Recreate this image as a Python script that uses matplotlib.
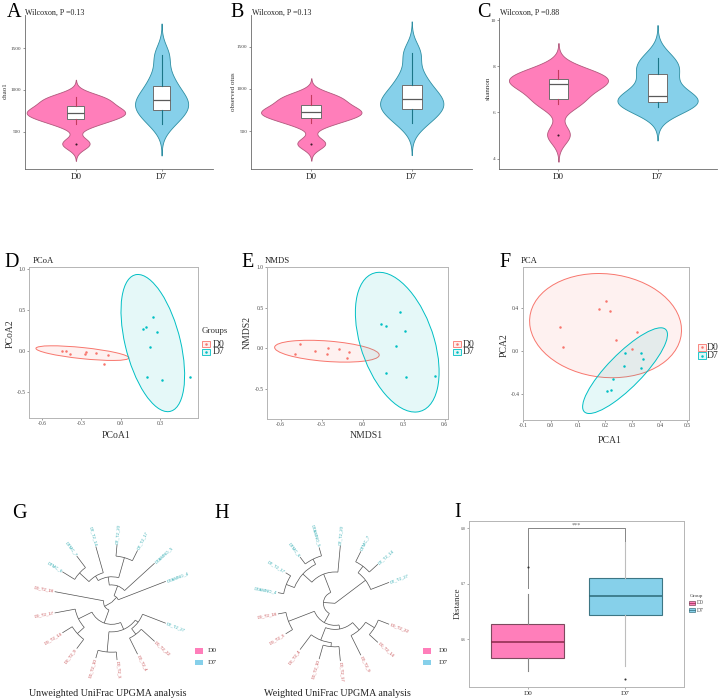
import numpy as np
import matplotlib.pyplot as plt
from matplotlib.mlab import GaussianKDE
from matplotlib.patches import Arc, Ellipse, Rectangle
from matplotlib.colors import to_rgba
from matplotlib.ticker import FormatStrFormatter

plt.rcParams['font.family'] = ['Liberation Serif', 'DejaVu Serif']
plt.rcParams['axes.unicode_minus'] = False

# ---------------- data ----------------
groups = ['D0', 'D7']

# alpha diversity (8 samples per group)
chao1_d0 = [357, 595, 675, 705, 747, 790, 870, 917]
chao1_d7 = [595, 720, 776, 850, 912, 1010, 1162, 1417]
otus_d0 = [352, 592, 672, 700, 740, 786, 862, 922]
otus_d7 = [592, 716, 772, 846, 906, 1004, 1156, 1422]
shannon_d0 = [5.04, 6.35, 6.64, 7.15, 7.29, 7.40, 7.60, 7.83]
shannon_d7 = [6.22, 6.35, 6.46, 6.60, 6.80, 7.55, 7.95, 8.35]
wilcox_p = ['0.13', '0.13', '0.88']

# ordinations
pcoa_d0_x = [-0.450, -0.420, -0.387, -0.269, -0.262, -0.185, -0.097, -0.124]
pcoa_d0_y = [0.008, 0.004, -0.032, -0.032, -0.016, -0.028, -0.044, -0.160]
pcoa_d7_x = [0.249, 0.191, 0.170, 0.280, 0.221, 0.201, 0.315, 0.527]
pcoa_d7_y = [0.416, 0.296, 0.268, 0.236, 0.052, -0.312, -0.351, -0.308]

nmds_d0_x = [-0.458, -0.495, -0.346, -0.253, -0.258, -0.176, -0.102, -0.112]
nmds_d0_y = [0.058, -0.065, -0.037, 0.000, -0.065, -0.004, -0.041, -0.114]
nmds_d7_x = [0.276, 0.132, 0.171, 0.312, 0.244, 0.171, 0.315, 0.532]
nmds_d7_y = [0.442, 0.303, 0.270, 0.217, 0.033, -0.299, -0.348, -0.335]

pca_d0_x = [0.203, 0.178, 0.218, 0.034, 0.315, 0.241, 0.044, 0.299]
pca_d0_y = [0.468, 0.391, 0.369, 0.223, 0.177, 0.102, 0.037, 0.016]
pca_d7_x = [0.271, 0.332, 0.339, 0.268, 0.330, 0.229, 0.220, 0.206]
pca_d7_y = [-0.021, -0.021, -0.077, -0.137, -0.155, -0.263, -0.363, -0.369]

# UPGMA trees: (node height, child, child), height 1 = root
tree_unweighted = (1.0,
    (0.88, 'D7AMNO_4',
        (0.70, 'D7AMNO_5',
            (0.56, (0.20, 'D7_T2_17', 'D7_T2_20'),
                   (0.47, 'D7_T2_14', (0.25, 'DTMC_7', 'DTMC_6'))))),
    (0.86, 'D0_T2_18',
        (0.62, (0.36, 'D0_T2_17', (0.20, 'D0_T2_14', 'D0_T2_9')),
               (0.49, (0.14, 'D0_T2_10', 'D0_T2_3'),
                      (0.43, (0.31, 'D0_T2_4', 'D0_T2_22'), 'D7_T2_27')))))

tree_weighted = (1.0,
    (0.34, 'D7_T2_27', (0.20, 'D7_T2_14', 'DTMC_7')),
    (0.80,
        (0.46, 'D7_T2_20',
            (0.25, (0.15, 'D7AMNO_5', 'DTMC_6'), (0.10, 'D7_T2_17', 'D7AMNO_4'))),
        (0.62, (0.14, 'D0_T2_18', 'D0_T2_3'),
               (0.55, (0.32, 'D0_T2_4', (0.25, 'D0_T2_10', 'D0_T2_17')),
                      (0.38, 'D0_T2_9', (0.20, 'D0_T2_14', 'D0_T2_22'))))))

# beta distance boxplot stats
dist_med = [0.595, 0.678]
dist_q1 = [0.566, 0.643]
dist_q3 = [0.627, 0.711]
dist_lo = [0.543, 0.552]
dist_hi = [0.681, 0.775]
dist_out = [[0.730], [0.528]]
sig_y = 0.80
sig_tips = [0.692, 0.711]

# ---------------- style ----------------
vio_fill = ['#FF7EBA', '#86D0EA']
vio_edge = ['#B0587C', '#2E8EA2']
whisk_col = ['#C43B5E', '#1C7688']
ord_col = ['#F8766D', '#00BFC4']
tip_col = {'D0': '#C4464A', 'D7': '#35ADB3'}

W, H = 719, 700
fig = plt.figure(figsize=(W / 100, H / 100), dpi=100)


def px_axes(l, t, r, b, **kw):
    return fig.add_axes([l / W, 1 - b / H, (r - l) / W, (b - t) / H], **kw)


def nrd0(v):
    q1, q3 = np.percentile(v, [25, 75])
    return 0.9 * min(np.std(v, ddof=1), (q3 - q1) / 1.34) * len(v) ** -0.2


def violin_panel(ax, data, widths, yticks, ylim):
    for pos, vals, w, fc, ec, wc in zip([1, 2], data, widths, vio_fill, vio_edge, whisk_col):
        vals = np.asarray(vals, float)
        bw = nrd0(vals)
        kde = GaussianKDE(vals, bw_method=bw / vals.std(ddof=1))
        grid = np.linspace(vals.min() - 3 * bw, vals.max() + 3 * bw, 300)
        dens = kde.evaluate(grid)
        half = dens / dens.max() * w / 2
        ax.fill_betweenx(grid, pos - half, pos + half, facecolor=fc, edgecolor=ec, lw=0.6, zorder=1)
        ax.boxplot(vals, positions=[pos], widths=0.2, patch_artist=True, showcaps=False,
                   boxprops=dict(facecolor='white', edgecolor='#6e6e6e', lw=0.7),
                   medianprops=dict(color='#5a5a5a', lw=0.9),
                   whiskerprops=dict(color=wc, lw=0.8),
                   flierprops=dict(marker='o', ms=1.5, mfc='#3a1c28', mec='none'),
                   zorder=2)
    ax.set_xlim(0.4, 2.6)
    ax.set_ylim(*ylim)
    ax.set_xticks([1, 2], groups)
    ax.set_yticks(yticks)
    for sp in ['top', 'right']:
        ax.spines[sp].set_visible(False)
    for sp in ['left', 'bottom']:
        ax.spines[sp].set_color('#6a6a6a')
        ax.spines[sp].set_linewidth(0.6)
    ax.tick_params(axis='y', labelsize=3.8, length=1.5, width=0.5, colors='#6a6a6a',
                   labelcolor='#444444', pad=1)
    ax.tick_params(axis='x', labelsize=6.5, length=1.5, width=0.5, colors='#6a6a6a',
                   labelcolor='#222222', pad=1.4)


axA = px_axes(24.5, 15, 213, 169)
violin_panel(axA, [chao1_d0, chao1_d7], (1.15, 0.62), [500, 1000, 1500], (53, 1899))
axB = px_axes(251, 15, 472, 169)
violin_panel(axB, [otus_d0, otus_d7], (1.0, 0.63), [500, 1000, 1500], (50, 1875))
axC = px_axes(499, 18, 717, 169)
violin_panel(axC, [shannon_d0, shannon_d7], (1.0, 0.81), [4, 6, 8, 10], (3.55, 10.09))


# ---------------- ordinations ----------------
F95 = 4.737  # qf(0.95, 2, n - 1) with n = 8


def cov_trob(xy, nu=5, maxit=25, tol=0.01):
    n, p = xy.shape
    loc = xy.mean(axis=0)
    w = np.ones(n)
    for _ in range(maxit):
        w0 = w
        X = xy - loc
        _, d, vt = np.linalg.svd(np.sqrt(w / w.sum())[:, None] * X, full_matrices=False)
        wX = X @ vt.T / d
        Q = (wX ** 2).sum(axis=1)
        w = (nu + p) / (nu + Q)
        loc = (w[:, None] * xy).sum(axis=0) / w.sum()
        if np.all(np.abs(w - w0) < tol):
            break
    sX = np.sqrt(w)[:, None] * X
    return loc, sX.T @ sX / n


def ord_panel(ax, pts, xlim, ylim, xticks, yticks):
    for (x, y), c in zip(pts, ord_col):
        xy = np.column_stack([x, y])
        loc, cov = cov_trob(xy)
        vals, vecs = np.linalg.eigh(cov)
        rad = np.sqrt(2 * F95)
        ang = np.degrees(np.arctan2(vecs[1, 1], vecs[0, 1]))
        ax.add_patch(Ellipse(loc, 2 * rad * np.sqrt(vals[1]), 2 * rad * np.sqrt(vals[0]),
                             angle=ang, facecolor=to_rgba(c, 0.1), edgecolor=c, lw=0.7, zorder=1))
        ax.plot(x, y, 'o', color=c, ms=1.8, mew=0, zorder=3)
    ax.set_xlim(*xlim)
    ax.set_ylim(*ylim)
    ax.set_xticks(xticks)
    ax.set_yticks(yticks)
    ax.xaxis.set_major_formatter(FormatStrFormatter('%.1f'))
    ax.yaxis.set_major_formatter(FormatStrFormatter('%.1f'))
    for sp in ax.spines.values():
        sp.set_color('#b5b5b5')
        sp.set_linewidth(0.7)
    ax.tick_params(labelsize=4, length=1.5, width=0.5, colors='#777777',
                   labelcolor='#444444', pad=1)


axD = px_axes(29, 267, 198, 418)
ord_panel(axD, [(pcoa_d0_x, pcoa_d0_y), (pcoa_d7_x, pcoa_d7_y)], (-0.70, 0.59), (-0.81, 1.02),
          [-0.6, -0.3, 0.0, 0.3], [-0.5, 0.0, 0.5, 1.0])
axE = px_axes(267, 267, 448, 419)
ord_panel(axE, [(nmds_d0_x, nmds_d0_y), (nmds_d7_x, nmds_d7_y)], (-0.70, 0.624), (-0.866, 1.0),
          [-0.6, -0.3, 0.0, 0.3, 0.6], [-0.5, 0.0, 0.5, 1.0])
axF = px_axes(522.7, 267, 689.3, 420)
ord_panel(axF, [(pca_d0_x, pca_d0_y), (pca_d7_x, pca_d7_y)], (-0.102, 0.508), (-0.64, 0.78),
          [-0.1, 0.0, 0.1, 0.2, 0.3, 0.4, 0.5], [-0.4, 0.0, 0.4])


# ---------------- trees ----------------
def leaves_of(node):
    if isinstance(node, str):
        return [node]
    return leaves_of(node[1]) + leaves_of(node[2])


def group_of(name):
    return 'D0' if name.startswith('D0') else 'D7'


def draw_tree(ax, tree):
    order = leaves_of(tree)
    step = 360 / (len(order) + 1)
    lc = '#505050'

    def place(node, parent_r):
        if isinstance(node, str):
            ang = (order.index(node) + 1) * step
            r = 1.0
            t = np.radians(ang)
            if np.cos(t) >= 0:
                rot, ha = ang if ang < 90 else ang - 360, 'left'
            else:
                rot, ha = ang - 180, 'right'
            ax.text(1.015 * np.cos(t), 1.015 * np.sin(t), node, rotation=rot, ha=ha, va='center',
                    rotation_mode='anchor', fontsize=3.1, family=['Liberation Sans', 'DejaVu Sans'],
                    color=tip_col[group_of(node)])
        else:
            h, a, b = node
            r = 1.0 - h
            ang_a = place(a, r)
            ang_b = place(b, r)
            ang = (ang_a + ang_b) / 2
            if r > 0:
                ax.add_patch(Arc((0, 0), 2 * r, 2 * r, theta1=min(ang_a, ang_b),
                                 theta2=max(ang_a, ang_b), color=lc, lw=0.5))
        t = np.radians(ang)
        ax.plot([parent_r * np.cos(t), r * np.cos(t)], [parent_r * np.sin(t), r * np.sin(t)],
                color=lc, lw=0.5, solid_capstyle='butt')
        return ang

    place(tree, 0.0)
    lim = 100 / 58
    ax.set_xlim(-lim, lim)
    ax.set_ylim(-lim, lim)
    ax.set_aspect('equal')
    ax.axis('off')


axG = px_axes(11.7, 502.3, 211.7, 702.3)
draw_tree(axG, tree_unweighted)
axH = px_axes(235, 503.3, 435, 703.3)
draw_tree(axH, tree_weighted)


# ---------------- distance boxplot ----------------
axI = px_axes(469, 520.7, 684, 686.7)
axI.plot([1, 1, 2, 2], [sig_tips[0], sig_y, sig_y, sig_tips[1]], color='#858585', lw=0.7, zorder=1)
box_edge = ['#7d4a5e', '#3d7684']
box_med = ['#8a2a4a', '#2d6a78']
box_whisk = ['#858585', '#bdbdbd']
for i in range(2):
    st = [dict(med=dist_med[i], q1=dist_q1[i], q3=dist_q3[i], whislo=dist_lo[i],
               whishi=dist_hi[i], fliers=dist_out[i])]
    axI.bxp(st, positions=[i + 1], widths=0.75, patch_artist=True, showcaps=False,
            boxprops=dict(facecolor=vio_fill[i], edgecolor=box_edge[i], lw=0.8),
            medianprops=dict(color=box_med[i], lw=1.1),
            whiskerprops=dict(color=box_whisk[i], lw=0.8),
            flierprops=dict(marker='o', ms=1.5, mfc='#333333', mec='none'),
            zorder=2)
axI.text(1.5, sig_y + 0.002, '***', ha='center', va='bottom', fontsize=4.5, color='#666666')
axI.set_xlim(0.4, 2.6)
axI.set_ylim(0.5146, 0.8137)
axI.set_xticks([1, 2], groups)
axI.set_yticks([0.6, 0.7, 0.8])
axI.yaxis.set_major_formatter(FormatStrFormatter('%.1f'))
for sp in axI.spines.values():
    sp.set_color('#b5b5b5')
    sp.set_linewidth(0.7)
axI.tick_params(axis='y', labelsize=3, length=1.3, width=0.5, colors='#888888',
                labelcolor='#555555', pad=1)
axI.tick_params(axis='x', labelsize=5.2, length=1.3, width=0.5, colors='#888888',
                labelcolor='#333333', pad=1.5)


# ---------------- overlay text & legends ----------------
ov = fig.add_axes([0, 0, 1, 1], zorder=10)
ov.set_xlim(0, W)
ov.set_ylim(H, 0)
ov.axis('off')

for s, x, y in [('A', 14, 16.7), ('B', 237, 16.7), ('C', 484, 17.3),
                ('D', 12, 266.7), ('E', 248, 266.7), ('F', 505, 266.7),
                ('G', 19, 518.3), ('H', 222, 518.3), ('I', 458, 516.7)]:
    ov.text(x, y, s, ha='center', va='baseline', fontsize=14.5)

for x, p in zip([25, 251.5, 500.5], wilcox_p):
    ov.text(x, 15.3, 'Wilcoxon, P =' + p, ha='left', va='baseline', fontsize=5.8, color='#222222')

for s, x, y in [('chao1', 5.5, 91), ('observed otus', 233.5, 92), ('shannon', 488, 88)]:
    ov.text(x, y, s, rotation=90, ha='center', va='center', fontsize=5, color='#333333')

for s, x in [('PCoA', 33), ('NMDS', 265), ('PCA', 521)]:
    ov.text(x, 263.3, s, ha='left', va='baseline', fontsize=6.2, color='#222222')

for s, x, y in [('PCoA1', 115.8, 437.7), ('NMDS1', 366.7, 437.7), ('PCA1', 610, 443.3)]:
    ov.text(x, y, s, ha='center', va='baseline', fontsize=7, color='#333333')
for s, x, y in [('PCoA2', 10, 334), ('NMDS2', 247, 332.5), ('PCA2', 504, 345)]:
    ov.text(x, y, s, rotation=90, ha='center', va='center', fontsize=7, color='#333333')

# ellipse legends
ov.text(202, 333, 'Groups', ha='left', va='baseline', fontsize=6.4, color='#333333')
for kx, lx, ys in [(202.3, 213, (340.7, 348.5)), (453.3, 463, (340.7, 348.5)),
                   (698.3, 707, (344, 352.3))]:
    for y0, c, g in zip(ys, ord_col, groups):
        ov.add_patch(Rectangle((kx, y0), 7.7, 6.7, facecolor=to_rgba(c, 0.12), edgecolor=c, lw=0.6))
        ov.plot(kx + 3.85, y0 + 3.35, 'o', color=c, ms=1.8, mew=0)
        ov.text(lx, y0 + 3.35, g, ha='left', va='center', fontsize=6.9, color='#333333')

ov.text(689.3, 596.5, 'Group', ha='left', va='baseline', fontsize=3.8, color='#444444')
for y0, i in zip((601, 608.3), range(2)):
    ov.add_patch(Rectangle((689.3, y0), 5.7, 4, facecolor=vio_fill[i], edgecolor=box_edge[i], lw=0.5))
    ov.plot([689.3, 695], [y0 + 2, y0 + 2], color=box_med[i], lw=0.5)
    ov.text(696.7, y0 + 2, groups[i], ha='left', va='center', fontsize=4, color='#444444')

# tree legends
tree_leg = ['#FF7EBA', '#86D0EA']
for kx, lx in [(195, 207.5), (423, 439)]:
    for y0, c, g in zip((648, 659.5), tree_leg, groups):
        ov.add_patch(Rectangle((kx, y0), 8, 5.5, facecolor=c, edgecolor='none'))
        ov.text(lx, y0 + 2.9, g, ha='left', va='center', fontsize=5.4, color='#333333')

ov.text(108, 696, 'Unweighted UniFrac UPGMA analysis', ha='center', va='baseline',
        fontsize=7.2, color='#222222')
ov.text(337, 696, 'Weighted UniFrac UPGMA analysis', ha='center', va='baseline',
        fontsize=7.2, color='#222222')
ov.text(457.5, 603.5, 'Distance', rotation=90, ha='center', va='center', fontsize=6.5,
        color='#333333')

fig.savefig('out.png', dpi=100)
